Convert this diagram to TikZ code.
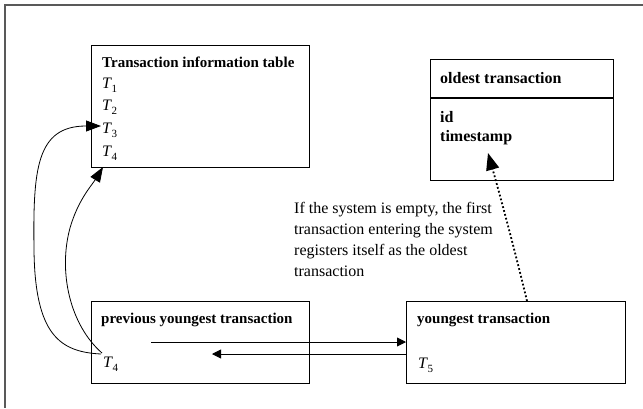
\documentclass[tikz,border=0pt]{standalone}
\usepackage{fontspec}
\setmainfont{Liberation Serif}
\usetikzlibrary{arrows.meta}
\newcommand{\Tsub}[1]{{\itshape T}\kern0.5pt\raisebox{-4pt}{\fontsize{11}{11}\selectfont #1}}
\tikzset{
  box/.style={draw=black, line width=1.1pt, inner sep=0pt, anchor=north west},
  txt/.style={anchor=base west, inner sep=0pt, font=\fontsize{16}{21}\selectfont},
  ttl/.style={anchor=base west, inner sep=0pt, font=\fontsize{15}{18}\selectfont\bfseries},
  frameline/.style={draw=black!65, line width=1.6pt},
  harr/.style={-{Triangle[length=9pt,width=9pt]}, line width=0.9pt},
  carr/.style={-{Triangle[length=15pt,width=11pt]}, line width=0.8pt},
  darr/.style={-{Triangle[length=17pt,width=13pt]}, line width=1.8pt, dash pattern=on 1.8pt off 2.2pt}
}
\begin{document}
\begin{tikzpicture}[x=1pt,y=-1pt]
\useasboundingbox (0,0) rectangle (643,408);
% outer frame (top and left edges)
\coordinate (fa) at (5,5);
\coordinate (fb) at (643,5);
\coordinate (fc) at (5,408);
\draw[frameline] (fb) -- (fa) -- (fc);

% boxes
\node[box, minimum width=218pt, minimum height=122pt] (table) at (91,45) {};
\node[box, minimum width=183pt, minimum height=121pt] (old) at (430,59) {};
\node[box, minimum width=218pt, minimum height=82pt] (prev) at (91,301) {};
\node[box, minimum width=219pt, minimum height=82pt] (young) at (406,301) {};
\coordinate (dv) at (0,98);
\draw[line width=1.1pt] (old.west |- dv) -- (old.east |- dv);

% texts
\node[ttl] (ttab) at (102,67) {Transaction information table};
\node[txt] (t1) at (102,88) {\Tsub{1}};
\node[txt] (t2) at (102,110.5) {\Tsub{2}};
\node[txt] (t3) at (102,133) {\Tsub{3}};
\node[txt] (t4a) at (102,156) {\Tsub{4}};

\node[ttl, font=\fontsize{16}{18}\selectfont\bfseries] (told) at (440,83) {oldest transaction};
\node[ttl, font=\fontsize{16}{18}\selectfont\bfseries] (tid) at (440,122) {id};
\node[ttl, font=\fontsize{16}{18}\selectfont\bfseries] (tts) at (440,141) {timestamp};

\node[ttl] (tprev) at (101,323) {previous youngest transaction};
\node[txt] (t4b) at (103,367) {\Tsub{4}};

\node[ttl] (tyoung) at (417,323) {youngest transaction};
\node[txt] (t5) at (418,368) {\Tsub{5}};

\node[txt, align=left] (note) at (294,276) {If the system is empty, the first\\transaction  entering the system\\registers itself as the oldest\\transaction};

% horizontal arrows
\coordinate (ra) at (151,342);
\coordinate (la) at (212,354);
\draw[harr] (ra) -- (young.west |- ra);
\draw[harr] (young.west |- la) -- (la);

% dotted arrow to oldest transaction
\coordinate (ds) at (527,301);
\coordinate (dt) at (488,153);
\draw[darr] (ds) .. controls (516,255) and (500,195) .. (dt);

% curved arrows from T4
\coordinate (c1s) at (101,354);
\coordinate (c1m) at (34,250);
\coordinate (c1e) at (101,126);
\draw[carr] (c1s) .. controls (60,352) and (35,335) .. (c1m) .. controls (33,170) and (36,126) .. (c1e);
\coordinate (c2s) at (102,353);
\coordinate (c2m) at (70,228);
\coordinate (c2e) at (103,167);
\draw[carr] (c2s) .. controls (70,325) and (58,272) .. (c2m) .. controls (78,200) and (92,185) .. (c2e);
\end{tikzpicture}
\end{document}
